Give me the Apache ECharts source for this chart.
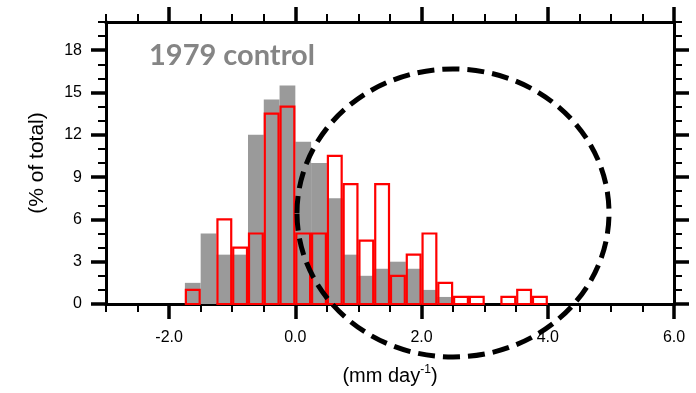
<!DOCTYPE html>
<html>
<head>
<meta charset="utf-8">
<script src="https://cdn.jsdelivr.net/npm/echarts@6/dist/echarts.min.js"></script>
<style>
  html, body { margin: 0; padding: 0; background: #fff; }
  #chart { width: 696px; height: 393px; }
</style>
</head>
<body>
<div id="chart"></div>
<script>
  // histogram bins (left edge, bin width 0.25 mm/day)
  var binWidth = 0.25;
  var binStarts = [-1.75, -1.5, -1.25, -1.0, -0.75, -0.5, -0.25, 0, 0.25, 0.5, 0.75, 1.0,
                   1.25, 1.5, 1.75, 2.0, 2.25, 2.5, 2.75, 3.0, 3.25, 3.5, 3.75];
  // % of total, grey filled = 1979 control
  var control = [1.5, 5, 3.5, 3.5, 12, 14.5, 15.5, 11.5, 10, 7.5, 3.5, 2,
                 2.5, 3, 2.5, 1, 0.5, 0, 0, 0, 0, 0, 0];
  // % of total, red outline
  var experiment = [1, 0, 6, 4, 5, 13.5, 14, 5, 5, 10.5, 8.5, 4.5,
                    8.5, 2, 3.5, 5, 1.5, 0.5, 0.5, 0, 0.5, 1, 0.5];

  var xMajor = [-2, 0, 2, 4, 6];
  var yMajor = [0, 3, 6, 9, 12, 15, 18];

  var axisFont = 'Liberation Sans';

  function binItem(color, filled) {
    return function (params, api) {
      var x0 = api.value(0);
      var v = api.value(1);
      if (!v) return null;
      var p0 = api.coord([x0, 0]);
      var p1 = api.coord([x0 + binWidth, v]);
      if (filled) {
        return {
          type: 'rect',
          shape: { x: p0[0], y: p1[1], width: p1[0] - p0[0], height: p0[1] - p1[1] },
          style: { fill: color }
        };
      }
      return {
        type: 'rect',
        shape: { x: p0[0] + 1, y: p1[1], width: p1[0] - p0[0] - 2, height: p0[1] - p1[1] },
        style: { fill: 'none', stroke: color, lineWidth: 2.2 }
      };
    };
  }

  // minor axis: ticks every 0.5; major axis: long ticks at labelled values
  function xAx(pos, major, labels) {
    var a = {
      type: 'value', position: pos, min: -3, max: 6,
      splitLine: { show: false },
      axisLine: { show: true, onZero: false, lineStyle: { color: '#000', width: 3 } },
      axisTick: { show: true, inside: false, length: major ? 15 : 8,
                  lineStyle: { color: '#000', width: major ? 3.5 : 2 } },
      axisLabel: { show: false }
    };
    if (major) a.axisTick.customValues = xMajor; else a.interval = 0.5;
    if (labels) {
      a.axisLabel = {
        show: true, customValues: xMajor, margin: 26,
        fontSize: 16, color: '#000', fontFamily: axisFont,
        formatter: function (v) { return v.toFixed(1); }
      };
      a.name = '(mm day{sup|-1})';
      a.nameLocation = 'middle';
      a.nameGap = 60;
      a.nameTextStyle = {
        fontSize: 20, color: '#000', fontFamily: axisFont, lineHeight: 24,
        rich: { sup: { fontSize: 12, verticalAlign: 'top', lineHeight: 24, color: '#000', fontFamily: axisFont } }
      };
    }
    return a;
  }

  function yAx(pos, major, labels) {
    var a = {
      type: 'value', position: pos, min: 0, max: 20,
      splitLine: { show: false },
      axisLine: { show: true, onZero: false, lineStyle: { color: '#000', width: 3 } },
      axisTick: { show: true, inside: false, length: major ? 15 : 8,
                  lineStyle: { color: '#000', width: major ? 3.5 : 2 } },
      axisLabel: { show: false }
    };
    if (major) a.axisTick.customValues = yMajor; else a.interval = 1;
    if (labels) {
      a.axisLabel = {
        show: true, customValues: yMajor, margin: 24,
        fontSize: 16, color: '#000', fontFamily: axisFont
      };
      a.name = '(% of total)';
      a.nameLocation = 'middle';
      a.nameGap = 58;
      a.nameTextStyle = { fontSize: 21, color: '#000', fontFamily: axisFont };
    }
    return a;
  }

  var chart = echarts.init(document.getElementById('chart'));
  chart.setOption({
    animation: false,
    title: {
      text: '1979 control', left: 144, top: 36,
      textStyle: { fontSize: 29, fontWeight: 'bold', color: '#858585', fontFamily: 'Lato' }
    },
    grid: { left: 106, right: 22, top: 22, bottom: 89 },
    xAxis: [
      xAx('bottom', false, true),
      xAx('bottom', true, false),
      xAx('top', false, false),
      xAx('top', true, false)
    ],
    yAxis: [
      yAx('left', false, true),
      yAx('left', true, false),
      yAx('right', false, false),
      yAx('right', true, false)
    ],
    series: [{
      name: '1979 control',
      type: 'custom',
      renderItem: binItem('#9a9a9a', true),
      data: binStarts.map(function (b, i) { return [b, control[i]]; }),
      z: 2
    }, {
      name: 'experiment',
      type: 'custom',
      renderItem: binItem('#ff0000', false),
      data: binStarts.map(function (b, i) { return [b, experiment[i]]; }),
      z: 3
    }],
    graphic: [{
      type: 'ellipse',
      shape: { cx: 453, cy: 213, rx: 156, ry: 144 },
      style: { fill: 'none', stroke: '#000', lineWidth: 5, lineDash: [17, 8] },
      z: 100
    }]
  });
</script>
</body>
</html>
